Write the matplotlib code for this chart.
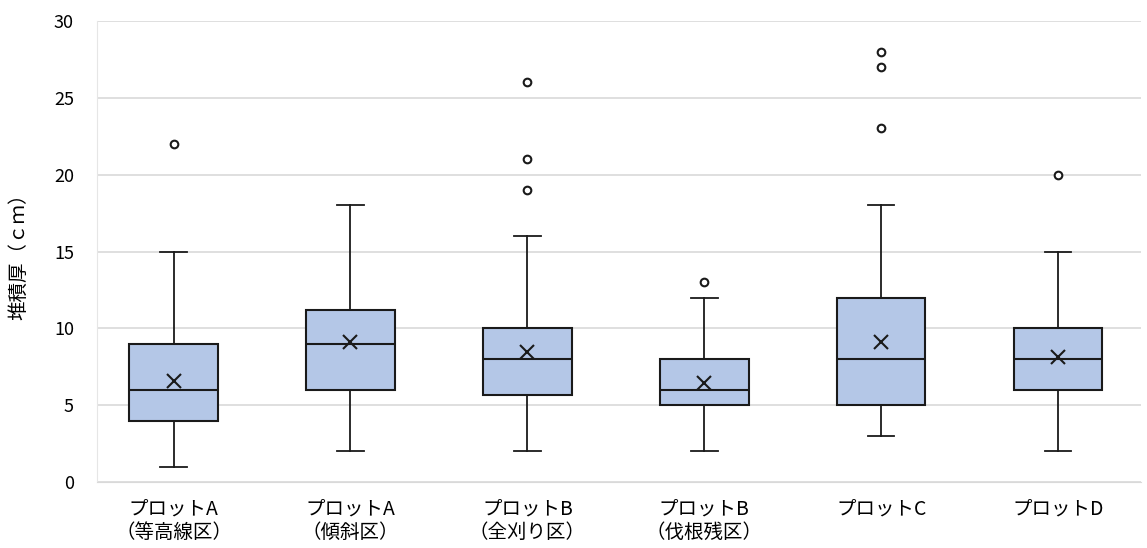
import numpy as np
import matplotlib.pyplot as plt

plt.rcParams['font.family'] = ['Noto Sans CJK JP', 'DejaVu Sans']

# データ
labels = ['プロットA\n（等高線区）', 'プロットA\n（傾斜区）', 'プロットB\n（全刈り区）',
          'プロットB\n（伐根残区）', 'プロットC', 'プロットD']
whislo = [1, 2, 2, 2, 3, 2]
q1 = [4, 6, 5.7, 5, 5, 6]
med = [6, 9, 8, 6, 8, 8]
q3 = [9, 11.2, 10, 8, 12, 10]
whishi = [15, 18, 16, 12, 18, 15]
mean = [6.6, 9.15, 8.45, 6.45, 9.15, 8.15]
fliers = [[22], [], [19, 21, 26], [13], [23, 27, 28], [20]]

stats = []
for i in range(len(labels)):
    stats.append(dict(label=labels[i], whislo=whislo[i], q1=q1[i], med=med[i],
                      q3=q3[i], whishi=whishi[i], mean=mean[i], fliers=fliers[i]))

fig = plt.figure(figsize=(11.47, 5.48), dpi=100)
ax = fig.add_axes([0.085, 0.12, 0.91, 0.842])

ax.bxp(stats, widths=0.5, patch_artist=True, showmeans=True, capwidths=0.15,
       boxprops=dict(facecolor='#b4c7e7', edgecolor='#1a1a1a', linewidth=1.5),
       medianprops=dict(color='#1a1a1a', linewidth=1.5),
       whiskerprops=dict(color='#1a1a1a', linewidth=1.3),
       capprops=dict(color='#1a1a1a', linewidth=1.3),
       meanprops=dict(marker='x', markeredgecolor='#1a1a1a', markersize=10, markeredgewidth=1.5),
       flierprops=dict(marker='o', markerfacecolor='white', markeredgecolor='#1a1a1a',
                       markersize=5.5, markeredgewidth=1.5))

ax.set_xlim(0.57, 6.47)
ax.set_ylim(0, 30)
ax.set_yticks(range(0, 31, 5))
ax.yaxis.grid(True, color='#d9d9d9', linewidth=1.2)
ax.set_axisbelow(True)
for s in ['top', 'right']:
    ax.spines[s].set_visible(False)
ax.spines['left'].set_color('#e6e6e6')
ax.spines['bottom'].set_color('#d9d9d9')
ax.tick_params(length=0, labelsize=13)
ax.tick_params(axis='y', pad=17)
ax.tick_params(axis='x', pad=12, labelsize=14)
for t in ax.get_xticklabels():
    t.set_linespacing(1.1)
ax.set_ylabel('堆積厚（ｃｍ）', fontsize=14, labelpad=18)

fig.savefig('out.png')
